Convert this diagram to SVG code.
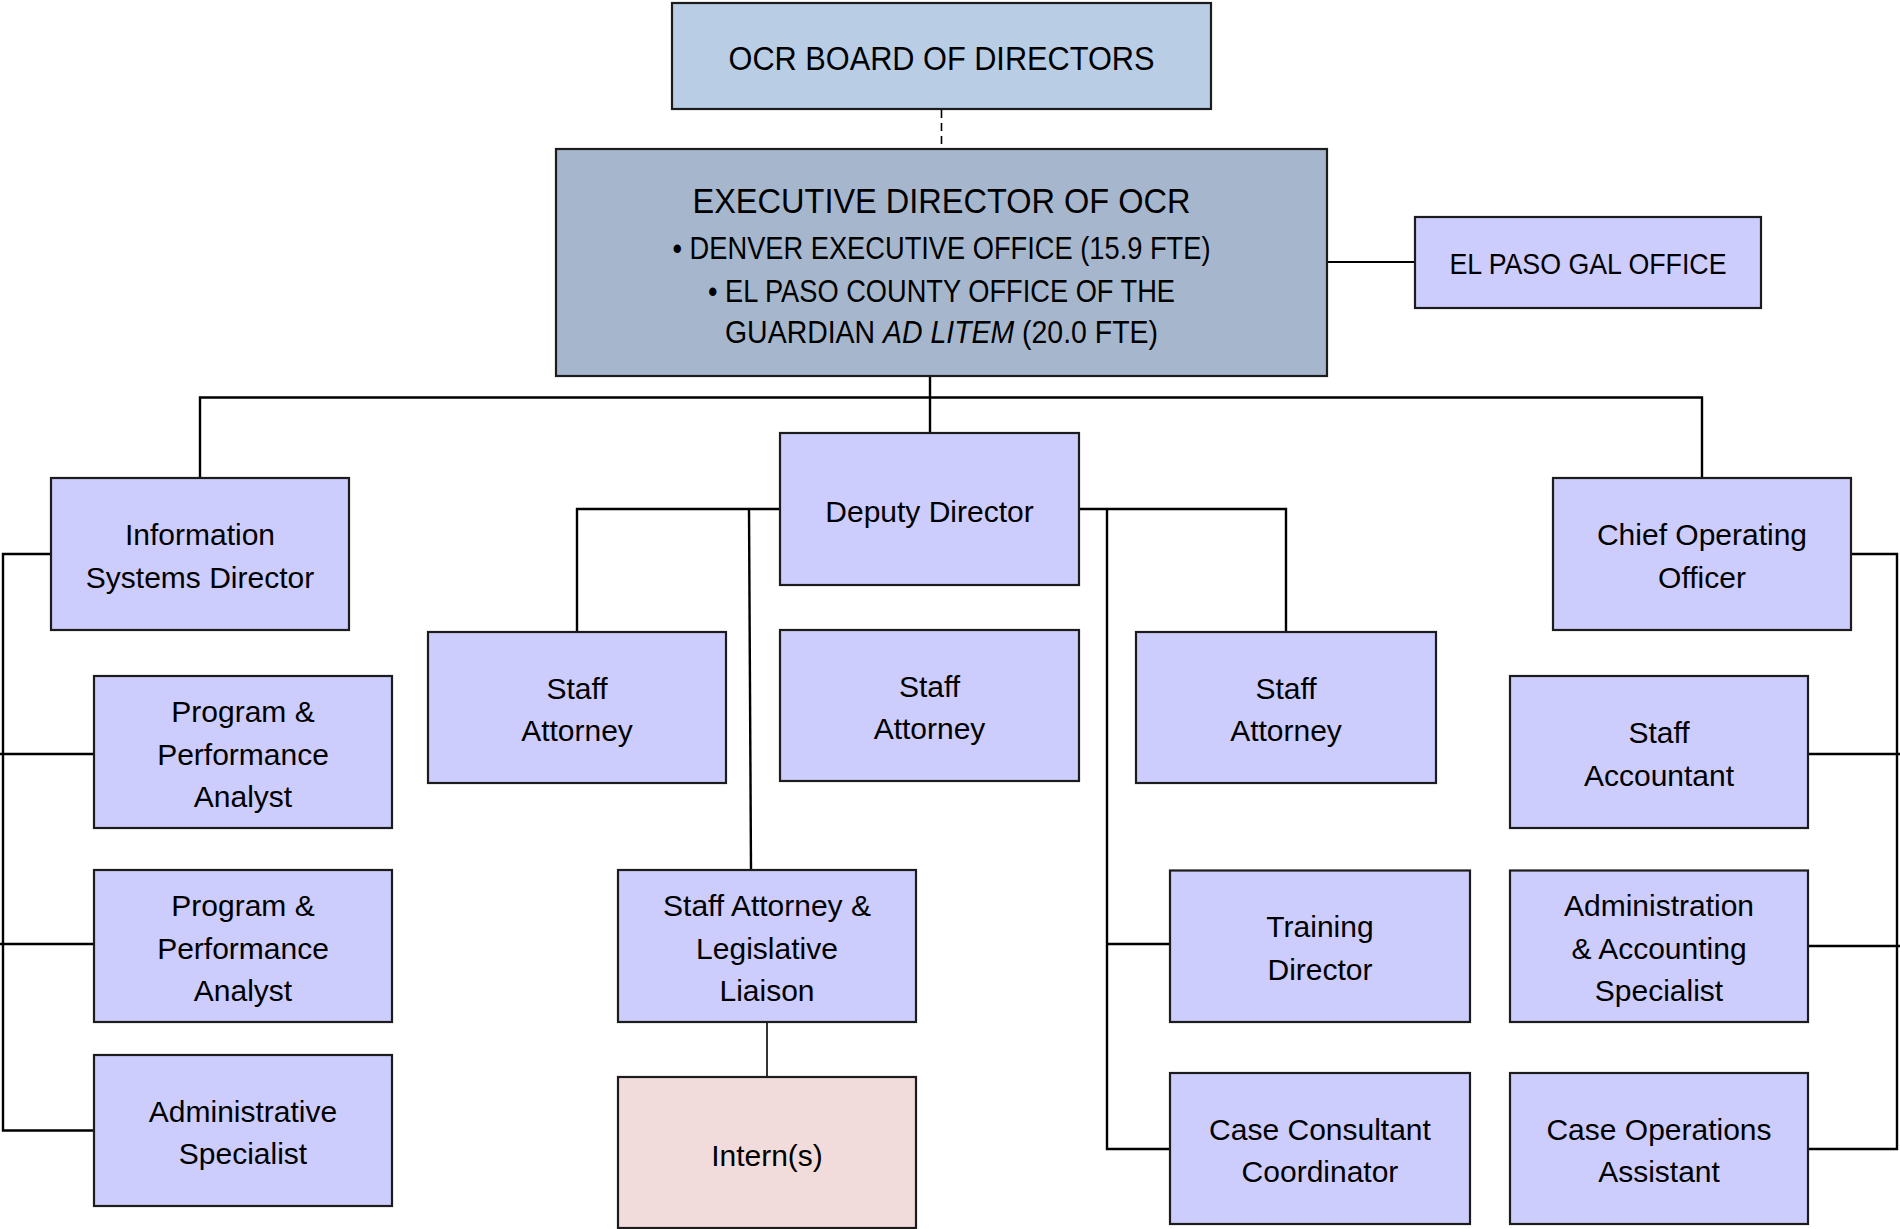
<svg xmlns="http://www.w3.org/2000/svg" width="1900" height="1229" viewBox="0 0 1900 1229">
<style>
.box{stroke:#1c1c1c;stroke-width:2.2}
.lav{fill:#ccccfd}
.t{font-family:"Liberation Sans",Arial,sans-serif;font-size:30px;fill:#000;text-anchor:middle}
.cap{font-family:"Liberation Sans",Arial,sans-serif;fill:#000;text-anchor:middle}
.ln{fill:none;stroke:#000;stroke-width:2.4}
</style>
<rect width="1900" height="1229" fill="#fff"/>
<g id="connectors">
<line x1="941.5" y1="110" x2="941.5" y2="149" stroke="#000" stroke-width="1.6" stroke-dasharray="8,5"/>
<path class="ln" d="M930,376V433"/>
<path class="ln" d="M200,478V397.5H1702V478"/>
<path class="ln" d="M1327,262H1415" style="stroke-width:2"/>
<path class="ln" d="M780,509H577V632"/>
<path class="ln" d="M749,509L751,870"/>
<path class="ln" d="M1079,509H1286V632"/>
<path class="ln" d="M1107,509V1149H1170"/>
<path class="ln" d="M1107,944H1170"/>
<path d="M767,1022V1077" stroke="#333" stroke-width="2" fill="none"/>
<path class="ln" d="M51,554H3V1130.5H94"/>
<path class="ln" d="M0,754H94"/>
<path class="ln" d="M0,944H94"/>
<path class="ln" d="M1851,554H1897V1149H1808"/>
<path class="ln" d="M1808,754H1900"/>
<path class="ln" d="M1808,946H1900"/>
</g>
<g id="board">
<rect class="box" x="672" y="3" width="539" height="106" fill="#b9cde5"/>
<text class="cap" x="941.5" y="70" font-size="32.5" textLength="426" lengthAdjust="spacingAndGlyphs">OCR BOARD OF DIRECTORS</text>
</g>
<g id="executive">
<rect class="box" x="556" y="149" width="771" height="227" fill="#a6b7cd"/>
<text class="cap" x="941.5" y="213" font-size="35" textLength="498" lengthAdjust="spacingAndGlyphs">EXECUTIVE DIRECTOR OF OCR</text>
<text class="cap" x="941.5" y="259" font-size="30.5" textLength="538" lengthAdjust="spacingAndGlyphs">• DENVER EXECUTIVE OFFICE (15.9 FTE)</text>
<text class="cap" x="941.5" y="302" font-size="30.5" textLength="467" lengthAdjust="spacingAndGlyphs">• EL PASO COUNTY OFFICE OF THE</text>
<text class="cap" x="941.5" y="343" font-size="30.5" textLength="433" lengthAdjust="spacingAndGlyphs">GUARDIAN <tspan font-style="italic">AD LITEM</tspan> (20.0 FTE)</text>
</g>
<g id="elpaso">
<rect class="box lav" x="1415" y="217" width="346" height="91"/>
<text class="cap" x="1588" y="274" font-size="30" textLength="277" lengthAdjust="spacingAndGlyphs">EL PASO GAL OFFICE</text>
</g>
<g id="info-systems">
<rect class="box lav" x="51" y="478" width="298" height="152"/>
<text class="t" x="200" y="545.3">Information</text>
<text class="t" x="200" y="587.7">Systems Director</text>
</g>
<g id="ppa1">
<rect class="box lav" x="94" y="676" width="298" height="152"/>
<text class="t" x="243" y="722.1">Program &amp;</text>
<text class="t" x="243" y="764.5">Performance</text>
<text class="t" x="243" y="806.9">Analyst</text>
</g>
<g id="ppa2">
<rect class="box lav" x="94" y="870" width="298" height="152"/>
<text class="t" x="243" y="916.1">Program &amp;</text>
<text class="t" x="243" y="958.5">Performance</text>
<text class="t" x="243" y="1000.9">Analyst</text>
</g>
<g id="admin-specialist">
<rect class="box lav" x="94" y="1055" width="298" height="151"/>
<text class="t" x="243" y="1121.8">Administrative</text>
<text class="t" x="243" y="1164.2">Specialist</text>
</g>
<g id="deputy">
<rect class="box lav" x="780" y="433" width="299" height="152"/>
<text class="t" x="929.5" y="522">Deputy Director</text>
</g>
<g id="staff-attorney-1">
<rect class="box lav" x="428" y="632" width="298" height="151"/>
<text class="t" x="577" y="698.8">Staff</text>
<text class="t" x="577" y="741.2">Attorney</text>
</g>
<g id="staff-attorney-2">
<rect class="box lav" x="780" y="630" width="299" height="151"/>
<text class="t" x="929.5" y="696.8">Staff</text>
<text class="t" x="929.5" y="739.2">Attorney</text>
</g>
<g id="staff-attorney-3">
<rect class="box lav" x="1136" y="632" width="300" height="151"/>
<text class="t" x="1286" y="698.8">Staff</text>
<text class="t" x="1286" y="741.2">Attorney</text>
</g>
<g id="liaison">
<rect class="box lav" x="618" y="870" width="298" height="152"/>
<text class="t" x="767" y="916.1">Staff Attorney &amp;</text>
<text class="t" x="767" y="958.5">Legislative</text>
<text class="t" x="767" y="1000.9">Liaison</text>
</g>
<g id="interns">
<rect class="box" x="618" y="1077" width="298" height="151" fill="#f2dcdb"/>
<text class="t" x="767" y="1165.5">Intern(s)</text>
</g>
<g id="training">
<rect class="box lav" x="1170" y="870.5" width="300" height="151.5"/>
<text class="t" x="1320" y="937.3">Training</text>
<text class="t" x="1320" y="979.7">Director</text>
</g>
<g id="case-consultant">
<rect class="box lav" x="1170" y="1073" width="300" height="151"/>
<text class="t" x="1320" y="1140">Case Consultant</text>
<text class="t" x="1320" y="1182.4">Coordinator</text>
</g>
<g id="coo">
<rect class="box lav" x="1553" y="478" width="298" height="152"/>
<text class="t" x="1702" y="545.3">Chief Operating</text>
<text class="t" x="1702" y="587.7">Officer</text>
</g>
<g id="staff-accountant">
<rect class="box lav" x="1510" y="676" width="298" height="152"/>
<text class="t" x="1659" y="743.3">Staff</text>
<text class="t" x="1659" y="785.7">Accountant</text>
</g>
<g id="admin-accounting">
<rect class="box lav" x="1510" y="870.5" width="298" height="151.5"/>
<text class="t" x="1659" y="916.1">Administration</text>
<text class="t" x="1659" y="958.5">&amp; Accounting</text>
<text class="t" x="1659" y="1000.9">Specialist</text>
</g>
<g id="case-ops">
<rect class="box lav" x="1510" y="1073" width="298" height="151"/>
<text class="t" x="1659" y="1140">Case Operations</text>
<text class="t" x="1659" y="1182.4">Assistant</text>
</g>
</svg>
